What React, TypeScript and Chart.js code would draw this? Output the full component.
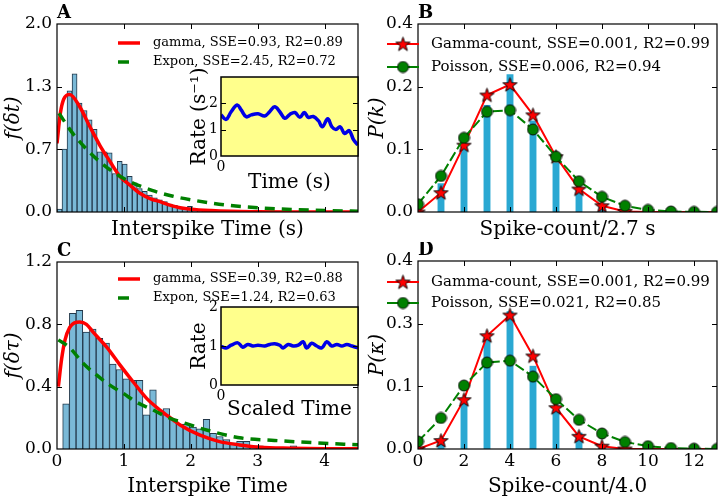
import React, { useEffect, useRef } from "react";
import { Chart, registerables } from "chart.js";

Chart.register(...registerables);

const FONT = "'DejaVu Serif', 'Liberation Serif', serif";
const RED = "#ff0000";
const GREEN = "#008000";
const BLUE = "#0000e6";
const HIST_FILL = "#7ab9d7";
const HIST_EDGE = "#23384a";
const COUNT_BAR = "#2aa8d2";
const INSET_BG = "#ffff8c";

// ---------------- Panel A : interspike-time histogram ----------------
const aBinStart = 0;
const aBinWidth = 0.075;
const aHist = [
  0.03, 0.67, 1.29, 1.47, 1.16, 1.08, 0.98, 0.88, 0.64, 0.64, 0.63, 0.41, 0.54, 0.51, 0.38,
  0.31, 0.25, 0.22, 0.18, 0.15, 0.13, 0.11, 0.085, 0.07, 0.05, 0.045, 0.06, 0.03, 0.02, 0.015,
  0.02, 0.01, 0, 0.01, 0, 0.01, 0, 0, 0, 0.005, 0, 0, 0, 0, 0, 0, 0, 0, 0, 0, 0, 0, 0, 0, 0, 0, 0, 0, 0, 0,
];
const aGammaX = [0, 0.05, 0.1, 0.19, 0.34, 0.49, 0.64, 0.79, 0.94, 1.1, 1.24, 1.4, 1.54, 1.7, 1.84, 2.0, 2.3, 2.6, 3.0, 3.5, 4.5];
const aGammaY = [0.73, 1.05, 1.2, 1.25, 1.12, 0.91, 0.71, 0.54, 0.38, 0.28, 0.2, 0.14, 0.11, 0.07, 0.046, 0.03, 0.015, 0.007, 0.003, 0.001, 0];
const aExponX = [0.03, 0.21, 0.4, 0.63, 0.85, 1.1, 1.42, 1.72, 2.0, 2.5, 3.0, 3.5, 4.0, 4.5];
const aExponY = [1.05, 0.86, 0.7, 0.54, 0.42, 0.32, 0.23, 0.17, 0.13, 0.076, 0.045, 0.027, 0.016, 0.009];
const aXTicks = [0, 1, 2, 3, 4];
const aYTicks = [0, 2 / 3, 4 / 3, 2];
const aLegend = ["gamma, SSE=0.93, R2=0.89", "Expon, SSE=2.45, R2=0.72"];

// Inset A : rate over time
const insetATime = [0, 3.7, 7.4, 11.8, 14.7, 18.4, 22.1, 27, 31.9, 35.5, 39.2, 42.9, 46.6, 50.2, 53.9, 57.6, 60.8, 63.7, 67.4, 71.1, 74, 77.9, 80.9, 83.8, 87, 90.2, 93.6, 96.8, 100];
const insetARate = [1.56, 1.39, 1.68, 1.94, 1.75, 1.49, 1.56, 1.6, 1.52, 1.68, 1.87, 1.68, 1.43, 1.58, 1.65, 1.47, 1.65, 1.47, 1.5, 1.34, 1.11, 1.41, 1.11, 1.01, 1.11, 0.86, 0.96, 0.61, 0.42];
const insetAYTicks = [0, 1, 2, 3];

// ---------------- Panel B : spike counts / 2.7 s ----------------
const countValues = [0, 1, 2, 3, 4, 5, 6, 7, 8, 9, 10, 11, 12, 13];
const barCounts = [1, 2, 3, 4, 5, 6, 7, 8];
const bBars = [0.055, 0.125, 0.205, 0.264, 0.175, 0.095, 0.045, 0.015];
const bGamma = [0, 0.037, 0.128, 0.224, 0.244, 0.186, 0.106, 0.044, 0.012, 0.001, 0, 0, 0, 0];
const bPoisson = [0.015, 0.069, 0.142, 0.192, 0.195, 0.158, 0.106, 0.059, 0.029, 0.012, 0.004, 0.001, 0.0003, 0.0001];
const bYTicks = [0, 0.12, 0.24, 0.36];
const countXTicks = [0, 2, 4, 6, 8, 10, 12];
const bLegend = ["Gamma-count, SSE=0.001, R2=0.99", "Poisson, SSE=0.006, R2=0.94"];

// ---------------- Panel C : rescaled interspike times ----------------
const cBinStart = 0.085;
const cBinWidth = 0.1;
const cHist = [
  0.29, 0.87, 0.89, 0.75, 0.77, 0.71, 0.68, 0.545, 0.51, 0.45, 0.44, 0.44, 0.22, 0.38, 0.23,
  0.26, 0.19, 0.16, 0.16, 0.14, 0.13, 0.19, 0.1, 0.08, 0.06, 0.04, 0.05, 0.05, 0.02, 0.02,
  0.01, 0.01, 0.005, 0, 0.02, 0, 0.005, 0, 0.01, 0, 0, 0, 0, 0,
];
const cGammaX = [0.02, 0.07, 0.12, 0.19, 0.26, 0.34, 0.44, 0.54, 0.74, 0.94, 1.14, 1.34, 1.54, 1.74, 1.84, 2.13, 2.43, 2.73, 3.03, 3.5, 4.0, 4.5];
const cGammaY = [0.4, 0.58, 0.7, 0.78, 0.81, 0.815, 0.8, 0.75, 0.655, 0.54, 0.43, 0.325, 0.25, 0.186, 0.154, 0.09, 0.047, 0.026, 0.011, 0.005, 0.002, 0.001];
const cExponX = [0.02, 0.19, 0.39, 0.59, 0.79, 0.99, 1.19, 1.39, 1.69, 1.91, 2.25, 2.76, 3.25, 3.85, 4.5];
const cExponY = [0.7, 0.65, 0.55, 0.475, 0.41, 0.357, 0.3, 0.26, 0.197, 0.166, 0.12, 0.07, 0.055, 0.04, 0.027];
const cXTicks = [0, 1, 2, 3, 4];
const cYTicks = [0, 0.4, 0.8, 1.2];
const cLegend = ["gamma, SSE=0.39, R2=0.88", "Expon, SSE=1.24, R2=0.63"];

// Inset C : rescaled rate
const insetCTime = [0, 3.7, 7.4, 12.3, 15.9, 19.6, 23.3, 27, 31.9, 35.5, 39.2, 42.9, 45.3, 49, 52.7, 56.4, 60, 62.5, 66.2, 69.9, 73.5, 77.2, 80.9, 84.6, 88.2, 91.9, 95.6, 100];
const insetCRate = [0.99, 0.95, 1.02, 1.08, 0.97, 1.04, 1.0, 1.02, 1.0, 1.04, 1.06, 1.02, 0.95, 1.04, 1.0, 1.02, 1.11, 0.95, 1.07, 1.0, 0.95, 1.11, 1.0, 1.04, 1.0, 1.04, 1.0, 0.95];
const insetCYTicks = [0, 1, 2];

// ---------------- Panel D : spike counts / 4.0 ----------------
const dBars = [0.02, 0.099, 0.239, 0.293, 0.177, 0.083, 0.035, 0.003];
const dGamma = [0, 0.018, 0.105, 0.241, 0.285, 0.198, 0.088, 0.027, 0.006, 0, 0, 0, 0, 0];
const dPoisson = [0.016, 0.066, 0.135, 0.184, 0.188, 0.154, 0.106, 0.062, 0.033, 0.015, 0.006, 0.002, 0.0007, 0.0002];
const dYTicks = [0, 0.4 / 3, 0.8 / 3, 0.4];
const dLegend = ["Gamma-count, SSE=0.001, R2=0.99", "Poisson, SSE=0.021, R2=0.85"];

type Box = { cx: number; cy: number; w: number; h: number; L: number; T: number; R: number; B: number };

const boxA: Box = { cx: 0, cy: 0, w: 362, h: 242, L: 57, T: 24, R: 358, B: 212 };
const boxB: Box = { cx: 362, cy: 0, w: 363, h: 242, L: 418, T: 24, R: 722, B: 212 };
const boxC: Box = { cx: 0, cy: 242, w: 362, h: 258, L: 57, T: 262, R: 358, B: 449 };
const boxD: Box = { cx: 362, cy: 242, w: 363, h: 258, L: 418, T: 261, R: 722, B: 449 };
const boxIA: Box = { cx: 180, cy: 60, w: 180, h: 140, L: 221, T: 77, R: 358, B: 156 };
const boxIC: Box = { cx: 180, cy: 290, w: 180, h: 135, L: 221, T: 307, R: 358, B: 385 };
const BOXES = [boxA, boxB, boxC, boxD, boxIA, boxIC];

function makeStar(size: number): HTMLCanvasElement {
  const c = document.createElement("canvas");
  c.width = size;
  c.height = size;
  const g = c.getContext("2d")!;
  const m = size / 2;
  const R = m - 1;
  const r = R * 0.4;
  g.beginPath();
  for (let i = 0; i < 10; i++) {
    const ang = -Math.PI / 2 + (i * Math.PI) / 5;
    const rad = i % 2 === 0 ? R : r;
    g.lineTo(m + rad * Math.cos(ang), m + 0.6 + rad * Math.sin(ang));
  }
  g.closePath();
  g.fillStyle = RED;
  g.fill();
  g.lineWidth = 0.9;
  g.strokeStyle = "#000";
  g.stroke();
  return c;
}

function makeDot(size: number): HTMLCanvasElement {
  const c = document.createElement("canvas");
  c.width = size;
  c.height = size;
  const g = c.getContext("2d")!;
  g.beginPath();
  g.arc(size / 2, size / 2, size / 2 - 1, 0, Math.PI * 2);
  g.fillStyle = GREEN;
  g.fill();
  g.lineWidth = 0.9;
  g.strokeStyle = "#000";
  g.stroke();
  return c;
}

type LegendRow = {
  color: string;
  text: string;
  y: number;
  x1: number;
  x2: number;
  textX: number;
  width: number;
  dash?: number[];
  marker?: HTMLCanvasElement;
  font: string;
};

type Spec = {
  box: Box;
  type: string;
  datasets: any[];
  xMin: number;
  xMax: number;
  yMin: number;
  yMax: number;
  xTicks: number[];
  yTicks: number[];
  xLabel: (v: number) => string;
  yLabel: (v: number) => string;
  xTitle: string;
  yTitle: string;
  yTitleItalic?: boolean;
  tickSize: number;
  xTickPad: number;
  yTickPad: number;
  xTitlePad: number;
  yTitlePad: number;
  tickLen: number;
  tickX: boolean;
  frameWidth: number;
  bg?: string;
  legend?: LegendRow[];
  letter?: string;
};

function decor(p: Spec) {
  return {
    id: "decor",
    beforeDatasetsDraw(chart: any) {
      if (!p.bg) return;
      const a = chart.chartArea;
      const ctx = chart.ctx;
      ctx.save();
      ctx.fillStyle = p.bg;
      ctx.fillRect(a.left, a.top, a.right - a.left, a.bottom - a.top);
      ctx.restore();
    },
    afterDraw(chart: any) {
      const ctx = chart.ctx as CanvasRenderingContext2D;
      const a = chart.chartArea;
      const xs = chart.scales.x;
      const ys = chart.scales.y;
      ctx.save();
      ctx.strokeStyle = "#000";
      ctx.lineWidth = 1;
      const tl = p.tickLen;
      const seg = (x1: number, y1: number, x2: number, y2: number) => {
        ctx.beginPath();
        ctx.moveTo(x1, y1);
        ctx.lineTo(x2, y2);
        ctx.stroke();
      };
      if (p.tickX) {
        for (const t of xs.ticks) {
          const px = Math.round(xs.getPixelForValue(t.value)) + 0.5;
          if (px <= a.left + 1 || px >= a.right - 1) continue;
          seg(px, a.bottom, px, a.bottom - tl);
          seg(px, a.top, px, a.top + tl);
        }
      }
      for (const t of ys.ticks) {
        const py = Math.round(ys.getPixelForValue(t.value)) + 0.5;
        if (py <= a.top + 1 || py >= a.bottom - 1) continue;
        seg(a.left, py, a.left + tl, py);
        seg(a.right, py, a.right - tl, py);
      }
      ctx.lineWidth = p.frameWidth;
      ctx.strokeRect(a.left, a.top, a.right - a.left, a.bottom - a.top);

      if (p.legend) {
        for (const row of p.legend) {
          const ry = row.y - p.box.cy;
          ctx.save();
          ctx.strokeStyle = row.color;
          ctx.lineWidth = row.width;
          ctx.setLineDash(row.dash || []);
          ctx.beginPath();
          ctx.moveTo(row.x1 - p.box.cx, ry);
          ctx.lineTo(row.x2 - p.box.cx, ry);
          ctx.stroke();
          ctx.restore();
          if (row.marker) {
            const mx = (row.x1 + row.x2) / 2 - p.box.cx;
            ctx.drawImage(row.marker, mx - row.marker.width / 2, ry - row.marker.height / 2);
          }
          ctx.fillStyle = "#000";
          ctx.font = row.font;
          ctx.textBaseline = "middle";
          ctx.textAlign = "left";
          ctx.fillText(row.text, row.textX - p.box.cx, ry);
        }
      }
      if (p.letter) {
        ctx.fillStyle = "#000";
        ctx.font = `bold 18px ${FONT}`;
        ctx.textBaseline = "alphabetic";
        ctx.textAlign = "left";
        ctx.fillText(p.letter, a.left, a.top - 6);
      }
      ctx.restore();
    },
  };
}

function makeConfig(p: Spec): any {
  const box = p.box;
  return {
    type: p.type,
    data: { datasets: p.datasets },
    options: {
      responsive: false,
      animation: false,
      devicePixelRatio: 1,
      events: [],
      layout: { padding: { left: 0, top: box.T - box.cy, right: box.cx + box.w - box.R, bottom: 0 } },
      plugins: { legend: { display: false }, tooltip: { enabled: false } },
      scales: {
        x: {
          type: "linear",
          min: p.xMin,
          max: p.xMax,
          offset: false,
          grid: { display: false, drawTicks: false },
          border: { display: false },
          afterBuildTicks: (s: any) => {
            s.ticks = p.xTicks.map((v) => ({ value: v }));
          },
          afterFit: (s: any) => {
            s.height = box.cy + box.h - box.B;
          },
          ticks: {
            autoSkip: false,
            maxRotation: 0,
            padding: p.xTickPad,
            color: "#000",
            font: { family: FONT, size: p.tickSize },
            callback: (v: any) => p.xLabel(Number(v)),
          },
          title: {
            display: true,
            text: p.xTitle,
            color: "#000",
            font: { family: FONT, size: 20 },
            padding: { top: 0, bottom: p.xTitlePad },
          },
        },
        y: {
          type: "linear",
          min: p.yMin,
          max: p.yMax,
          grid: { display: false, drawTicks: false },
          border: { display: false },
          afterBuildTicks: (s: any) => {
            s.ticks = p.yTicks.map((v) => ({ value: v }));
          },
          afterFit: (s: any) => {
            s.width = box.L - box.cx;
          },
          ticks: {
            autoSkip: false,
            padding: p.yTickPad,
            color: "#000",
            font: { family: FONT, size: p.tickSize },
            callback: (v: any) => p.yLabel(Number(v)),
          },
          title: {
            display: true,
            text: p.yTitle,
            color: "#000",
            font: { family: FONT, size: 20, style: p.yTitleItalic ? "italic" : "normal" },
            padding: { top: p.yTitlePad, bottom: 0 },
          },
        },
      },
    },
    plugins: [decor(p)],
  };
}

function pts(xs: number[], ys: number[]) {
  return xs.map((x, i) => ({ x, y: ys[i] }));
}

function histBars(start: number, width: number, h: number[]) {
  return h.map((v, i) => ({ x: start + width * (i + 0.5), y: v }));
}

function histPanel(
  box: Box,
  hist: { x: number; y: number }[],
  gamma: { x: number; y: number }[],
  expon: { x: number; y: number }[],
  yMax: number,
  yTicks: number[],
  xTicks: number[],
  showX: boolean,
  xTitle: string,
  yTitle: string,
  legendText: string[],
  legendY: number[],
  letter: string
): Spec {
  const legendFont = `13px ${FONT}`;
  return {
    box,
    type: "bar",
    datasets: [
      {
        type: "line",
        data: expon,
        borderColor: GREEN,
        borderWidth: 3.5,
        borderDash: [10, 7],
        pointRadius: 0,
        fill: false,
        cubicInterpolationMode: "monotone",
        clip: 0,
      },
      {
        type: "line",
        data: gamma,
        borderColor: RED,
        borderWidth: 3.5,
        pointRadius: 0,
        fill: false,
        cubicInterpolationMode: "monotone",
        clip: 0,
      },
      {
        type: "bar",
        data: hist,
        backgroundColor: HIST_FILL,
        borderColor: HIST_EDGE,
        borderWidth: 1,
        barPercentage: 1,
        categoryPercentage: 1,
        clip: 0,
      },
    ],
    xMin: 0,
    xMax: 4.5,
    yMin: 0,
    yMax,
    xTicks,
    yTicks,
    xLabel: (v) => (showX ? String(v) : ""),
    yLabel: (v) => v.toFixed(1),
    xTitle,
    yTitle,
    yTitleItalic: true,
    tickSize: 17,
    xTickPad: 2,
    yTickPad: 5,
    xTitlePad: box.cy + box.h - (box.B + (showX ? 38 : 18)) - 12,
    yTitlePad: 2,
    tickLen: 5,
    tickX: true,
    frameWidth: 1.2,
    legend: [
      { color: RED, text: legendText[0], y: legendY[0], x1: 118, x2: 140, textX: 153, width: 3.5, font: legendFont },
      { color: GREEN, text: legendText[1], y: legendY[1], x1: 118, x2: 129, textX: 153, width: 3.5, font: legendFont },
    ],
    letter,
  };
}

function countPanel(
  box: Box,
  bars: number[],
  gamma: number[],
  poisson: number[],
  yMax: number,
  yTicks: number[],
  showX: boolean,
  xTitle: string,
  yTitle: string,
  legendText: string[],
  legendY: number[],
  letter: string,
  star: HTMLCanvasElement,
  dot: HTMLCanvasElement
): Spec {
  const legendFont = `15px ${FONT}`;
  return {
    box,
    type: "bar",
    datasets: [
      {
        type: "line",
        data: pts(countValues, poisson),
        borderColor: GREEN,
        borderWidth: 2,
        borderDash: [10, 3.5],
        pointStyle: dot,
        pointRadius: 5,
        fill: false,
        tension: 0,
        clip: 0,
      },
      {
        type: "line",
        data: pts(countValues, gamma),
        borderColor: RED,
        borderWidth: 2,
        pointStyle: star,
        pointRadius: countValues.map((c) => (c <= 9 ? 6 : 0)),
        fill: false,
        tension: 0,
        clip: 0,
      },
      {
        type: "bar",
        data: pts(barCounts, bars),
        backgroundColor: COUNT_BAR,
        borderWidth: 0,
        barPercentage: 0.3,
        categoryPercentage: 1,
        clip: 0,
      },
    ],
    xMin: 0,
    xMax: 13,
    yMin: 0,
    yMax,
    xTicks: countXTicks,
    yTicks,
    xLabel: (v) => (showX ? String(v) : ""),
    yLabel: (v) => v.toFixed(1),
    xTitle,
    yTitle,
    yTitleItalic: true,
    tickSize: 17,
    xTickPad: 2,
    yTickPad: 5,
    xTitlePad: box.cy + box.h - (box.B + (showX ? 38 : 18)) - 12,
    yTitlePad: 4,
    tickLen: 5,
    tickX: true,
    frameWidth: 1.2,
    legend: [
      { color: RED, text: legendText[0], y: legendY[0], x1: 387, x2: 419, textX: 431, width: 2, marker: star, font: legendFont },
      { color: GREEN, text: legendText[1], y: legendY[1], x1: 387, x2: 419, textX: 431, width: 2, marker: dot, font: legendFont },
    ],
    letter,
  };
}

function insetPanel(box: Box, time: number[], rate: number[], yMax: number, yTicks: number[], yTitle: string, xTitle: string, xTitlePad: number): Spec {
  return {
    box,
    type: "line",
    datasets: [
      {
        data: pts(time, rate),
        borderColor: BLUE,
        borderWidth: 3.5,
        pointRadius: 0,
        fill: false,
        tension: 0.4,
        clip: 0,
      },
    ],
    xMin: 0,
    xMax: 100,
    yMin: 0,
    yMax,
    xTicks: [0],
    yTicks,
    xLabel: (v) => String(v),
    yLabel: (v) => (v > 2 ? "" : String(v)),
    xTitle,
    yTitle,
    tickSize: 14,
    xTickPad: 3,
    yTickPad: 3,
    xTitlePad,
    yTitlePad: 8,
    tickLen: 5,
    tickX: false,
    frameWidth: 1.5,
    bg: INSET_BG,
  };
}

export default function App() {
  const r0 = useRef<HTMLCanvasElement>(null);
  const r1 = useRef<HTMLCanvasElement>(null);
  const r2 = useRef<HTMLCanvasElement>(null);
  const r3 = useRef<HTMLCanvasElement>(null);
  const r4 = useRef<HTMLCanvasElement>(null);
  const r5 = useRef<HTMLCanvasElement>(null);
  const refs = [r0, r1, r2, r3, r4, r5];

  useEffect(() => {
    const star = makeStar(17);
    const dot = makeDot(13);
    const specs: Spec[] = [
      histPanel(
        boxA,
        histBars(aBinStart, aBinWidth, aHist),
        pts(aGammaX, aGammaY),
        pts(aExponX, aExponY),
        2,
        aYTicks,
        aXTicks,
        false,
        "Interspike Time (s)",
        "f(\u03b4t)",
        aLegend,
        [43, 62],
        "A"
      ),
      countPanel(boxB, bBars, bGamma, bPoisson, 0.36, bYTicks, false, "Spike-count/2.7 s", "P(k)", bLegend, [44, 67], "B", star, dot),
      histPanel(
        boxC,
        histBars(cBinStart, cBinWidth, cHist),
        pts(cGammaX, cGammaY),
        pts(cExponX, cExponY),
        1.2,
        cYTicks,
        cXTicks,
        true,
        "Interspike Time",
        "f(\u03b4\u03c4)",
        cLegend,
        [279, 298],
        "C"
      ),
      countPanel(boxD, dBars, dGamma, dPoisson, 0.4, dYTicks, true, "Spike-count/4.0", "P(\u03ba)", dLegend, [282, 303], "D", star, dot),
      insetPanel(boxIA, insetATime, insetARate, 3, insetAYTicks, "Rate (s\u207b\u00b9)", "Time (s)", 5),
      insetPanel(boxIC, insetCTime, insetCRate, 2, insetCYTicks, "Rate", "Scaled Time", 3),
    ];
    const charts: Chart[] = specs.map((s, i) => new Chart(refs[i].current as HTMLCanvasElement, makeConfig(s)));
    return () => charts.forEach((c) => c.destroy());
  }, []);

  return (
    <div style={{ position: "absolute", left: 0, top: 0, width: 725, height: 500, background: "#fff", overflow: "hidden" }}>
      {BOXES.map((b, i) => (
        <canvas key={i} ref={refs[i]} width={b.w} height={b.h} style={{ position: "absolute", left: b.cx, top: b.cy }} />
      ))}
    </div>
  );
}
